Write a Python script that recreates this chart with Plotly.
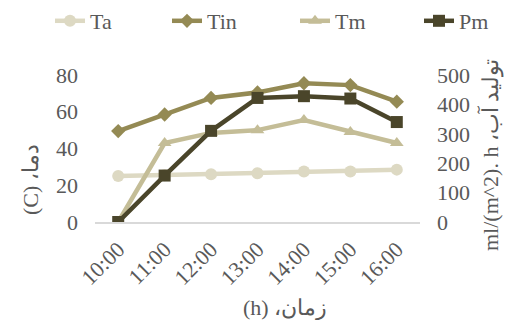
import plotly.graph_objects as go

# Hourly readings
hours = ["10:00", "11:00", "12:00", "13:00", "14:00", "15:00", "16:00"]
ta = [25, 25.5, 26, 26.5, 27.5, 27.5, 28.5]
tin = [49.5, 58.5, 67.5, 70.5, 75.5, 74.5, 65.5]
tm = [0, 43, 48.5, 50, 55.5, 49, 43]
pm = [0, 158, 310, 422, 428, 420, 340]

temp_ticks = [0, 20, 40, 60, 80]
prod_ticks = [0, 100, 200, 300, 400, 500]

FONT = "Liberation Serif, Times New Roman, serif"
GREY = "#595959"

W, H = 515, 320
ML, MR, MT, MB = 95, 95, 75, 98

fig = go.Figure()

# name, values, colour, marker symbol, marker size, y axis, legend id, legend x (px)
series = [
    ("Ta", ta, "#DDD9C3", "circle", 12, "y", "legend", 50),
    ("Tin", tin, "#948A54", "diamond", 11, "y", "legend2", 167),
    ("Tm", tm, "#C4BD97", "triangle-up", 12, "y", "legend3", 295),
    ("Pm", pm, "#4A452A", "square", 12, "y2", "legend4", 419),
]
legend_layout = {}
for name, vals, color, sym, size, axis, leg, lx in series:
    fig.add_trace(go.Scatter(
        x=hours, y=vals, name=name, mode="lines+markers", yaxis=axis,
        legend=leg,
        line=dict(color=color, width=4.5),
        marker=dict(symbol=sym, size=size, color=color),
    ))
    legend_layout[leg] = dict(
        orientation="h", xref="container", yref="container",
        x=lx / W, y=1 - 0 / H, xanchor="left", yanchor="top",
        font=dict(family=FONT, size=22, color=GREY),
        bgcolor="rgba(0,0,0,0)", itemwidth=30,
    )

fig.update_layout(
    width=W, height=H,
    margin=dict(l=ML, r=MR, t=MT, b=MB, pad=0, autoexpand=False),
    paper_bgcolor="white", plot_bgcolor="white",
    font=dict(family=FONT, size=22, color=GREY),
    showlegend=True,
    xaxis=dict(
        type="category", range=[-0.5, 6.5], automargin=False,
        showgrid=False, zeroline=False,
        showline=True, linecolor="#D9D9D9", linewidth=1.5,
        ticks="", tickangle=-45, ticklabelstandoff=4,
        tickfont=dict(family=FONT, size=22, color=GREY),
    ),
    yaxis=dict(
        range=[0, 80], tickvals=temp_ticks, automargin=False,
        showgrid=False, zeroline=False, showline=False, ticks="",
        ticklabelstandoff=16,
        tickfont=dict(family=FONT, size=22, color=GREY),
    ),
    yaxis2=dict(
        range=[0, 500], tickvals=prod_ticks, overlaying="y", side="right",
        automargin=False,
        showgrid=False, zeroline=False, showline=False, ticks="",
        ticklabelstandoff=16,
        tickfont=dict(family=FONT, size=22, color=GREY),
    ),
    **legend_layout,
)

def px_x(px):
    return (px - ML) / (W - ML - MR)

def px_y(py):
    return (H - MB - py) / (H - MT - MB)

title_font = dict(family=FONT, size=22, color=GREY)
fig.add_annotation(text="(C) ،دما", xref="paper", yref="paper",
                   x=px_x(30), y=px_y(180), textangle=-90, showarrow=False,
                   font=title_font, xanchor="center", yanchor="middle")
fig.add_annotation(text="ml/(m^2). h ،تولید آب", xref="paper", yref="paper",
                   x=px_x(490), y=px_y(155), textangle=-90, showarrow=False,
                   font=title_font, xanchor="center", yanchor="middle")
fig.add_annotation(text="(h) ،زمان", xref="paper", yref="paper",
                   x=px_x(285), y=px_y(308), showarrow=False,
                   font=title_font, xanchor="center", yanchor="middle")

fig.write_html("out.html")
